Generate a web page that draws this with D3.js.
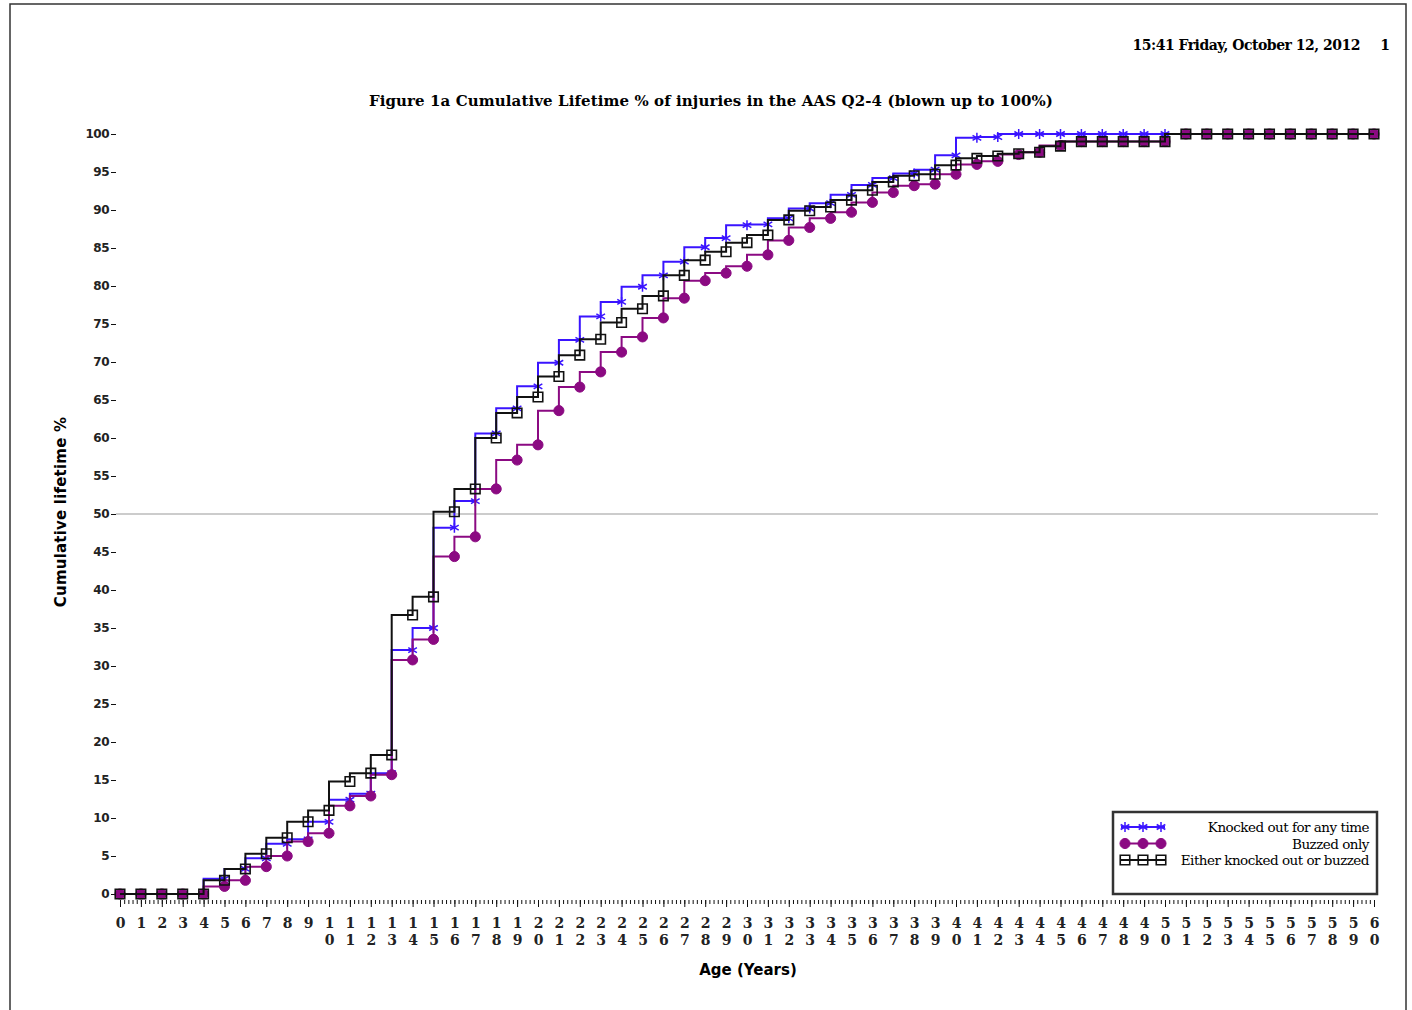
<!DOCTYPE html>
<html>
<head>
<meta charset="utf-8">
<script src="https://cdn.jsdelivr.net/npm/d3@7"></script>
<style>
  body { margin: 0; background: #fff; }
  svg { display: block; }
</style>
</head>
<body>
<script>
// ages 0..60
var ages = d3.range(0, 61);

var knockedOut = [0, 0, 0, 0, 0, 2.0, 3.3, 4.7, 6.6, 7.2, 9.5, 12.4, 13.2, 15.9, 32.1, 35.0, 48.2, 51.7, 60.6, 63.9,
  66.8, 69.9, 72.9, 76.0, 77.9, 79.9, 81.4, 83.2, 85.1, 86.3, 88.0, 88.1, 88.9, 90.2, 90.9, 92.0, 93.3, 94.2, 94.8, 95.3,
  97.2, 99.5, 99.6, 100, 100, 100, 100, 100, 100, 100, 100, 100, 100, 100, 100, 100, 100, 100, 100, 100, 100];

var buzzed = [0, 0, 0, 0, 0, 1.0, 1.8, 3.6, 5.0, 6.9, 8.0, 11.6, 12.9, 15.7, 30.8, 33.5, 44.4, 47.0, 53.3, 57.1,
  59.1, 63.6, 66.7, 68.7, 71.3, 73.3, 75.8, 78.4, 80.7, 81.7, 82.6, 84.1, 86.0, 87.7, 88.9, 89.7, 91.0, 92.3, 93.2, 93.4,
  94.7, 96.0, 96.4, 97.3, 97.6, 98.5, 99.0, 99.0, 99.0, 99.0, 99.0, 100, 100, 100, 100, 100, 100, 100, 100, 100, 100];

var either = [0, 0, 0, 0, 0, 1.8, 3.3, 5.3, 7.4, 9.5, 11.0, 14.8, 15.9, 18.3, 36.7, 39.1, 50.3, 53.3, 60.0, 63.3,
  65.4, 68.1, 70.9, 73.0, 75.2, 77.0, 78.7, 81.4, 83.4, 84.5, 85.7, 86.7, 88.7, 89.9, 90.4, 91.3, 92.6, 93.7, 94.5, 94.7,
  95.9, 96.8, 97.1, 97.4, 97.6, 98.4, 99.0, 99.0, 99.0, 99.0, 99.0, 100, 100, 100, 100, 100, 100, 100, 100, 100, 100];

var yTicks = d3.range(0, 101, 5);
var xTicks = d3.range(0, 61, 1);

var series = [
  {name: "Knocked out for any time", values: knockedOut, color: "#3a14ff", symbol: "star"},
  {name: "Buzzed only", values: buzzed, color: "#8b0a82", symbol: "dot"},
  {name: "Either knocked out or buzzed", values: either, color: "#111", symbol: "square"}
];

var width = 1412,
    height = 1010;

var svg = d3.select("body").append("svg")
    .attr("width", width)
    .attr("height", height);

// page outline
svg.append("rect")
    .attr("x", 10).attr("y", 4)
    .attr("width", 1396).attr("height", 1030)
    .attr("fill", "none")
    .attr("stroke", "#333")
    .attr("stroke-width", 1.5);

var x = d3.scaleLinear().domain([0, 60]).range([120, 1374]);
var y = d3.scaleLinear().domain([0, 100]).range([894, 134]);

var left = x(0) - 4, right = x(60) + 4,
    top = y(100) - 7, bottom = y(0) + 6;

// header + title
svg.append("text")
    .attr("x", 1360).attr("y", 50)
    .attr("text-anchor", "end")
    .style("font", "bold 14px 'DejaVu Serif'")
    .style("letter-spacing", "-0.5px")
    .text("15:41 Friday, October 12, 2012");
svg.append("text")
    .attr("x", 1390).attr("y", 50)
    .attr("text-anchor", "end")
    .style("font", "bold 14px 'DejaVu Serif'")
    .text("1");

svg.append("text")
    .attr("x", 711).attr("y", 106)
    .attr("text-anchor", "middle")
    .style("font", "bold 15px 'DejaVu Serif'")
    .style("letter-spacing", "0.1px")
    .text("Figure 1a Cumulative Lifetime % of injuries in the AAS Q2-4 (blown up to 100%)");

// reference line at 50%
svg.append("line")
    .attr("x1", left).attr("x2", right)
    .attr("y1", y(50)).attr("y2", y(50))
    .attr("stroke", "#999")
    .attr("stroke-width", 1.2);

// y axis
var gy = svg.append("g").attr("transform", "translate(" + left + ",0)");
gy.call(d3.axisLeft(y).tickValues(d3.range(0, 101, 1)).tickSize(3).tickFormat(""));
gy.call(d3.axisLeft(y).tickValues(yTicks).tickSize(5).tickPadding(2));
gy.selectAll(".domain").remove();
gy.selectAll(".tick line").attr("stroke", "#111");
gy.selectAll(".tick text")
    .style("font", "bold 12px 'DejaVu Sans'")
    .style("letter-spacing", "-0.5px")
    .attr("fill", "#222");

// x axis
var gx = svg.append("g").attr("transform", "translate(0," + bottom + ")");
gx.call(d3.axisBottom(x).tickValues(d3.range(0, 60.01, 0.2)).tickSize(4).tickFormat(""));
var gxMajor = svg.append("g").attr("transform", "translate(0," + bottom + ")");
gxMajor.call(d3.axisBottom(x).tickValues(xTicks).tickSize(7));
gx.selectAll(".domain").remove();
gxMajor.selectAll(".domain").remove();
gx.selectAll(".tick line").attr("stroke", "#111");
gxMajor.selectAll(".tick line").attr("stroke", "#111");
gxMajor.selectAll(".tick text").each(function(d) {
  var t = d3.select(this).text(null)
      .attr("y", 18)
      .attr("fill", "#222")
      .style("font", "bold 14px 'DejaVu Serif'");
  String(d).split("").forEach(function(c, i) {
    t.append("tspan").attr("x", 0).attr("dy", i == 0 ? "0.71em" : "1.2em").text(c);
  });
});

// frame
svg.append("rect")
    .attr("x", left).attr("y", top)
    .attr("width", right - left).attr("height", bottom - top)
    .attr("fill", "none")
    .attr("stroke", "#222")
    .attr("stroke-width", 1.8);

// axis titles
svg.append("text")
    .attr("transform", "translate(66," + 512 + ") rotate(-90)")
    .attr("text-anchor", "middle")
    .style("font", "bold 15px 'DejaVu Sans'")
    .style("letter-spacing", "0.2px")
    .text("Cumulative lifetime %");
svg.append("text")
    .attr("x", 748).attr("y", 975)
    .attr("text-anchor", "middle")
    .style("font", "bold 15px 'DejaVu Sans'")
    .text("Age (Years)");

function marker(sel, s) {
  if (s.symbol == "star") {
    sel.attr("d", d3.symbol(d3.symbolAsterisk, 70))
        .attr("fill", "none").attr("stroke", s.color).attr("stroke-width", 1.5);
  } else if (s.symbol == "dot") {
    sel.attr("d", d3.symbol(d3.symbolCircle, 80))
        .attr("fill", s.color).attr("stroke", s.color).attr("stroke-width", 1);
  } else {
    sel.attr("d", d3.symbol(d3.symbolSquare, 90))
        .attr("fill", "none").attr("stroke", s.color).attr("stroke-width", 1.6);
  }
}

var line = d3.line()
    .x(function(d, i) { return x(ages[i]); })
    .y(function(d) { return y(d); })
    .curve(d3.curveStepBefore);

series.forEach(function(s) {
  svg.append("path")
      .datum(s.values)
      .attr("d", line)
      .attr("fill", "none")
      .attr("stroke", s.color)
      .attr("stroke-width", 2);

  svg.append("g").selectAll("path")
      .data(s.values)
      .enter()
      .append("path")
      .attr("transform", function(d, i) { return "translate(" + x(ages[i]) + "," + y(d) + ")"; })
      .call(marker, s);
});

// legend
var lg = svg.append("g");
lg.append("rect")
    .attr("x", 1113).attr("y", 812)
    .attr("width", 264).attr("height", 82)
    .attr("fill", "#fff")
    .attr("stroke", "#333")
    .attr("stroke-width", 2.5);

series.forEach(function(s, i) {
  var ly = 827 + i * 16.5;
  lg.append("line")
      .attr("x1", 1121).attr("x2", 1165)
      .attr("y1", ly).attr("y2", ly)
      .attr("stroke", s.color).attr("stroke-width", 2);
  lg.selectAll(null)
      .data([1125, 1143, 1161])
      .enter()
      .append("path")
      .attr("transform", function(d) { return "translate(" + d + "," + ly + ")"; })
      .call(marker, s);
  lg.append("text")
      .attr("x", 1369).attr("y", ly + 5)
      .attr("text-anchor", "end")
      .style("font", "13.5px 'DejaVu Serif'")
      .style("letter-spacing", "-0.5px")
      .text(s.name);
});
</script>
</body>
</html>
